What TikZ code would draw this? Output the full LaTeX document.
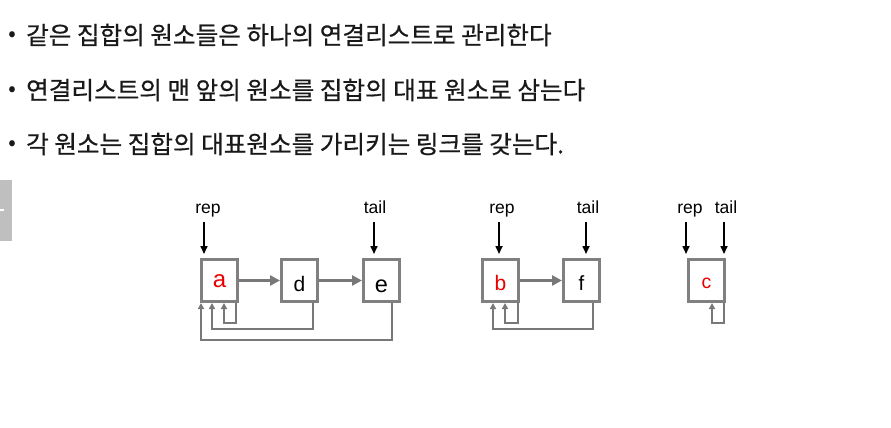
\documentclass[tikz,border=0pt]{standalone}
\usepackage{fontspec}
\setmainfont{Liberation Sans}
\newfontfamily\kr[FakeBold=0.6]{Noto Sans CJK KR}
\usetikzlibrary{arrows.meta,calc}
\definecolor{boxgray}{RGB}{128,128,128}
\definecolor{linkgray}{RGB}{120,120,120}
\definecolor{letterred}{RGB}{235,0,0}
\definecolor{textdark}{RGB}{25,25,25}
\definecolor{tabgray}{RGB}{191,191,191}
\newcommand{\boxletter}[3]{\fontsize{#1}{#1}\selectfont\raisebox{#2}{#3}}
\begin{document}
\begin{tikzpicture}[x=1pt,y=-1pt,
 box/.style={draw=boxgray,line width=3pt,minimum width=36pt,minimum height=42pt,inner sep=0pt,text height=19pt,text depth=0pt},
 nxt/.style={draw=linkgray,line width=2.6pt,-{Triangle[length=10pt,width=10pt]}},
 ret/.style={draw=linkgray,line width=2pt,-{Triangle[length=6pt,width=6pt]}},
 ptr/.style={draw=black,line width=1.6pt,-{Triangle[length=8pt,width=7pt]},shorten >=4pt},
 lbl/.style={font=\fontsize{17.5}{17.5}\selectfont,inner sep=0pt,anchor=base},
 bultext/.style={font=\kr\fontsize{24.6}{24.6}\selectfont,anchor=west,inner sep=0pt,text=textdark},
 bulmark/.style={font=\kr\fontsize{22}{22}\selectfont,inner sep=0pt,text=textdark}
]
\useasboundingbox (0,0) rectangle (891,428);
% side tab
\fill[tabgray] (0,180) rectangle (12,241);
\fill[white] (0,209) rectangle (4,211);
% bullet lines
\node[bulmark] (m1) at (12,36) {•};
\node[bultext] (t1) at (26,35) {같은 집합의 원소들은 하나의 연결리스트로 관리한다};
\node[bulmark] (m2) at (12,91) {•};
\node[bultext] (t2) at (26,90) {연결리스트의 맨 앞의 원소를 집합의 대표 원소로 삼는다};
\node[bulmark] (m3) at (12,145) {•};
\node[bultext] (t3) at (26,144) {각 원소는 집합의 대표원소를 가리키는 링크를 갖는다.};
% boxes
\node[box] (a) at (219.5,280.5) {\boxletter{24}{2.5pt}{\textcolor{letterred}{a}}};
\node[box] (d) at (299.5,280.5) {\boxletter{21}{-1pt}{d}};
\node[box] (e) at (381.5,280.5) {\boxletter{23.5}{-2pt}{e}};
\node[box] (b) at (500.5,280.5) {\boxletter{21}{0pt}{\textcolor{letterred}{b}}};
\node[box] (f) at (581.5,280.5) {\boxletter{20.5}{0pt}{f}};
\node[box] (c) at (706.5,280.5) {\boxletter{19.5}{1.5pt}{\textcolor{letterred}{c}}};
% labels
\node[lbl] (repa) at (208,213.5) {rep};
\node[lbl] (taile) at (375,213.5) {tail};
\node[lbl] (repb) at (502,213.5) {rep};
\node[lbl] (tailf) at (588,213.5) {tail};
\node[lbl] (repc) at (690,213.5) {rep};
\node[lbl] (tailc) at (726,213.5) {tail};
% pointers
\draw[ptr] ([xshift=-4pt,yshift=-8.5pt]repa.base) -- ([xshift=-4pt]repa.base |- a.north);
\draw[ptr] ([xshift=-1pt,yshift=-8.5pt]taile.base) -- ([xshift=-1pt]taile.base |- e.north);
\draw[ptr] ([xshift=-3pt,yshift=-8.5pt]repb.base) -- ([xshift=-3pt]repb.base |- b.north);
\draw[ptr] ([xshift=-2pt,yshift=-8.5pt]tailf.base) -- ([xshift=-2pt]tailf.base |- f.north);
\draw[ptr] ([xshift=-4pt,yshift=-8.5pt]repc.base) -- ([xshift=-4pt]repc.base |- c.north);
\draw[ptr] ([xshift=-2pt,yshift=-8.5pt]tailc.base) -- ([xshift=-2pt]tailc.base |- c.north);
% next links
\draw[nxt] (a) -- (d);
\draw[nxt] (d) -- (e);
\draw[nxt] (b) -- (f);
% representative links
\draw[ret] ([xshift=16.5pt]a.south) -- ++(0,19.5) -| ([xshift=4.5pt]a.south);
\draw[ret] ([xshift=13.5pt]d.south) -- ++(0,25.5) -| ([xshift=-7.5pt]a.south);
\draw[ret] ([xshift=10.5pt]e.south) -- ++(0,36.5) -| ([xshift=-18.5pt]a.south);
\draw[ret] ([xshift=17.5pt]b.south) -- ++(0,19.5) -| ([xshift=4.5pt]b.south);
\draw[ret] ([xshift=11.5pt]f.south) -- ++(0,25.5) -| ([xshift=-7.5pt]b.south);
\draw[ret] ([xshift=17.5pt]c.south) -- ++(0,19.5) -| ([xshift=5.5pt]c.south);
\end{tikzpicture}
\end{document}
